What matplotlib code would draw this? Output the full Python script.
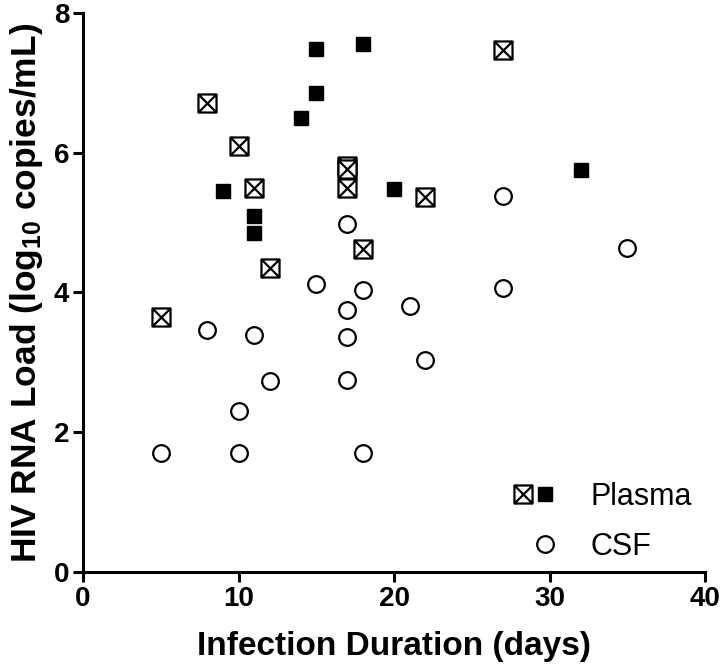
import matplotlib
matplotlib.use("Agg")
import matplotlib.pyplot as plt
from matplotlib.path import Path
from matplotlib.legend_handler import HandlerTuple
from matplotlib.lines import Line2D

# Plasma, crossed-box markers
plasma_x_days = [5, 8, 10, 11, 12, 17, 17, 17, 18, 22, 27]
plasma_x_load = [3.65, 6.71, 6.10, 5.50, 4.35, 5.81, 5.77, 5.50, 4.62, 5.37, 7.47]

# Plasma, filled square markers
plasma_f_days = [9, 11, 11, 14, 15, 15, 18, 20, 32]
plasma_f_load = [5.45, 5.09, 4.85, 6.50, 6.86, 7.48, 7.56, 5.48, 5.75]

# CSF
csf_days = [5, 8, 10, 10, 11, 12, 15, 17, 17, 17, 17, 18, 18, 21, 22, 27, 27, 35]
csf_load = [1.70, 3.47, 2.30, 1.70, 3.39, 2.73, 4.12, 4.98, 3.75, 3.36, 2.75,
            4.04, 1.70, 3.80, 3.04, 5.38, 4.07, 4.63]

plt.rcParams["font.family"] = ["Liberation Sans", "DejaVu Sans"]
plt.rcParams["mathtext.fontset"] = "custom"
plt.rcParams["mathtext.rm"] = "Liberation Sans:bold"
plt.rcParams["mathtext.default"] = "rm"

# square with an X inside
verts = [(-1, -1), (1, -1), (1, 1), (-1, 1), (-1, -1),
         (-1, -1), (1, 1), (-1, 1), (1, -1)]
codes = [Path.MOVETO, Path.LINETO, Path.LINETO, Path.LINETO, Path.CLOSEPOLY,
         Path.MOVETO, Path.LINETO, Path.MOVETO, Path.LINETO]
boxx = Path(verts, codes)

fig = plt.figure(figsize=(7.2, 6.7), dpi=100)
ax = fig.add_axes([0.1153, 0.1463, 0.8639, 0.8343])

h_csf, = ax.plot(csf_days, csf_load, "o", ms=12, mfc="white", mec="black",
                 mew=1.6, ls="none")
h_f, = ax.plot(plasma_f_days, plasma_f_load, "s", ms=9.5, mfc="black",
               mec="black", ls="none")
h_x, = ax.plot(plasma_x_days, plasma_x_load, marker=boxx, ms=13, mfc="white",
               mec="black", mew=1.6, ls="none")

ax.set_xlim(0, 40)
ax.set_ylim(0, 8)
ax.set_xticks([0, 10, 20, 30, 40])
ax.set_yticks([0, 2, 4, 6, 8])
for s in ["top", "right"]:
    ax.spines[s].set_visible(False)
for s in ["left", "bottom"]:
    ax.spines[s].set_linewidth(2.2)
ax.tick_params(direction="out", length=7, width=2.2, labelsize=20, pad=3)
for lab in ax.get_xticklabels() + ax.get_yticklabels():
    lab.set_fontweight("bold")

ax.set_xlabel("Infection Duration (days)", fontsize=24, fontweight="bold", labelpad=14)
ax.set_ylabel(r"HIV RNA Load (log$_{10}$ copies/mL)", fontsize=25.5,
              fontweight="bold", labelpad=6)

blank = Line2D([], [], ls="none", marker="none")
ax.legend([(h_x, h_f), (blank, h_csf)], ["Plasma", "CSF"],
          handler_map={tuple: HandlerTuple(ndivide=None, pad=0.35)},
          loc="upper left", bbox_to_anchor=(517 / 720, 1 - 482 / 670),
          bbox_transform=fig.transFigure, frameon=False, borderpad=0,
          borderaxespad=0, fontsize=22, handlelength=1.1,
          handletextpad=1.3, labelspacing=0.65)

fig.savefig("out.png", dpi=100)
